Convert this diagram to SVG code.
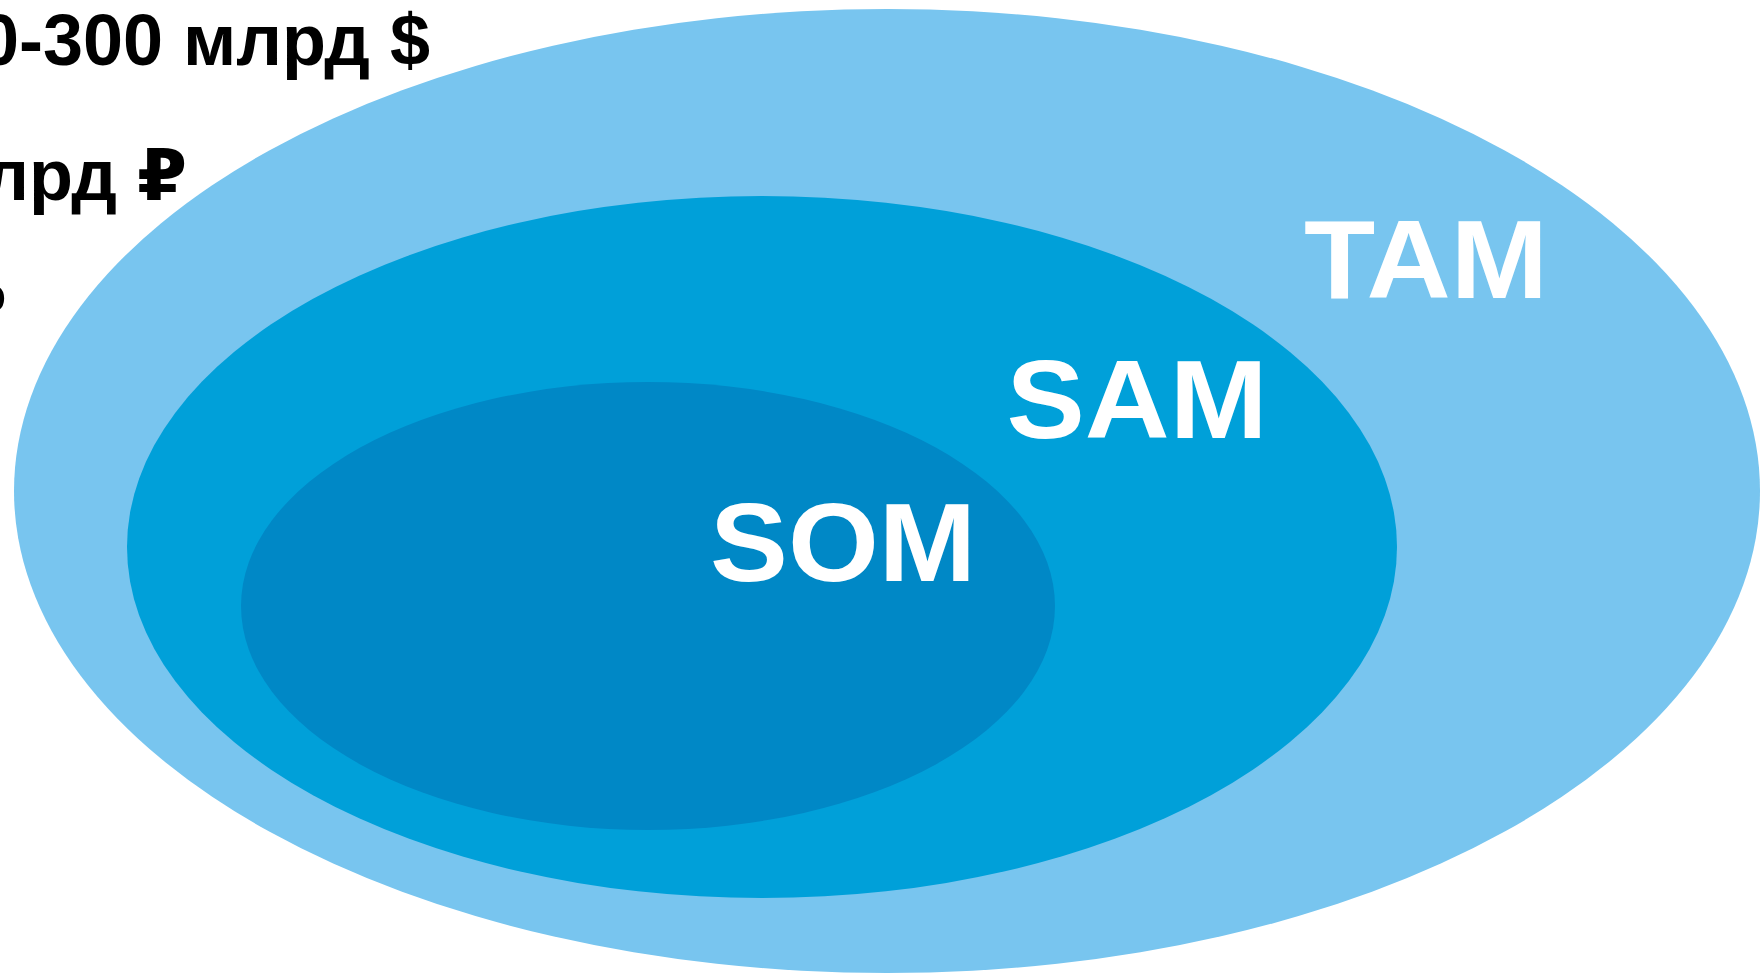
<svg xmlns="http://www.w3.org/2000/svg" width="1760" height="974" viewBox="0 0 1760 974">
  <style>
    .lbl { font-family: "Liberation Sans", Arial, "DejaVu Sans", sans-serif; font-weight: bold; fill: #ffffff; font-size: 112px; text-anchor: middle; }
    .val { font-family: "Liberation Sans", Arial, "DejaVu Sans", sans-serif; font-weight: bold; fill: #000000; font-size: 72px; text-anchor: end; }
    .tam { fill: #78C5EF; }
    .sam { fill: #00A0D9; }
    .som { fill: #0088C6; }
  </style>
  <rect x="0" y="0" width="1760" height="974" fill="#ffffff"/>
  <g id="tam">
    <ellipse class="tam" cx="887" cy="491" rx="873" ry="482"/>
    <text class="lbl" x="1426" y="298" textLength="244" lengthAdjust="spacingAndGlyphs">TAM</text>
  </g>
  <g id="sam">
    <ellipse class="sam" cx="762" cy="547" rx="635" ry="351"/>
    <text class="lbl" x="1137" y="438" textLength="261" lengthAdjust="spacingAndGlyphs">SAM</text>
  </g>
  <g id="som">
    <ellipse class="som" cx="648" cy="606" rx="407" ry="224"/>
    <text class="lbl" x="843" y="581" textLength="266" lengthAdjust="spacingAndGlyphs">SOM</text>
  </g>
  <g id="values">
    <text class="val" x="430" y="65">0-300 млрд $</text>
    <text class="val" x="187" y="200">лрд ₽</text>
    <text class="val" x="7" y="335">₽</text>
  </g>
  <g id="connectors"></g>
</svg>
